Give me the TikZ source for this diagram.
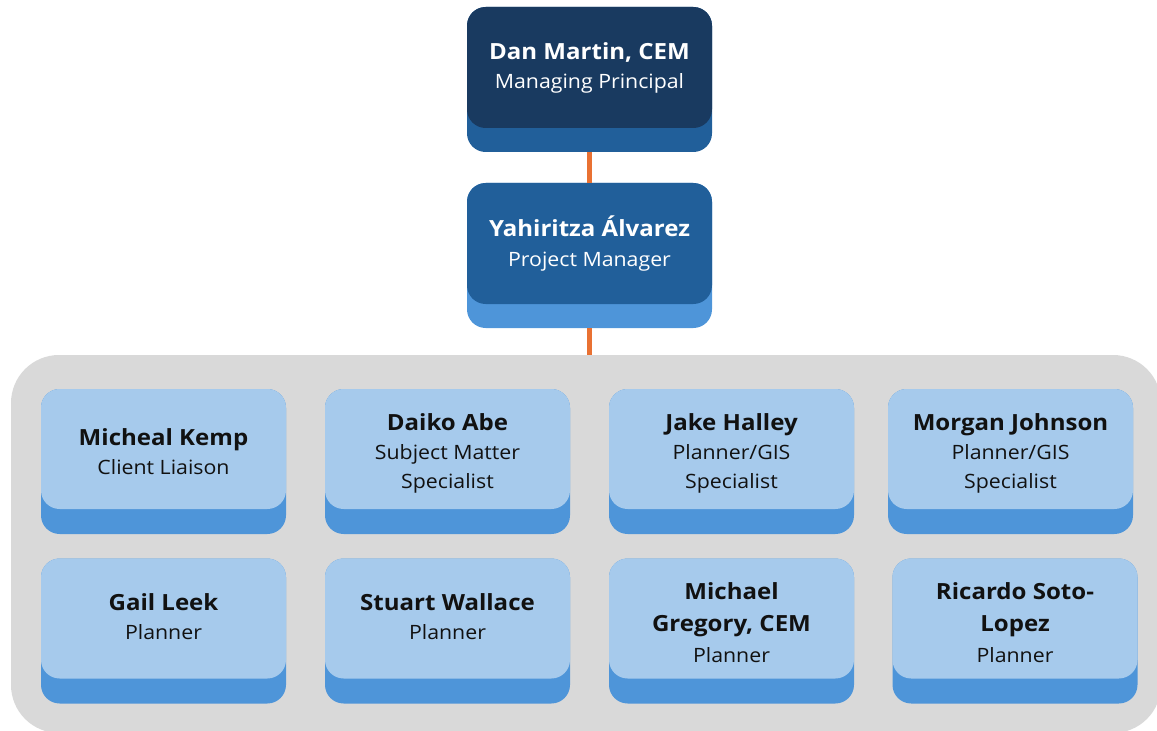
\documentclass[tikz,border=0pt]{standalone}
\usepackage{fontspec}
\setmainfont[FakeStretch=1.08]{Open Sans}
\definecolor{navy}{HTML}{193A60}
\definecolor{midblue}{HTML}{215F9A}
\definecolor{lightblue}{HTML}{4E95D9}
\definecolor{pale}{HTML}{A6CAEC}
\definecolor{panel}{HTML}{D9D9D9}
\definecolor{wire}{HTML}{E97132}
\definecolor{ink}{HTML}{111111}
\newcommand{\nm}[1]{{\fontsize{16.7}{21.8}\selectfont\bfseries #1}}
\begin{document}
\begin{tikzpicture}[x=0.75pt,y=-0.75pt,
  band/.style={rectangle, rounded corners=14pt, inner sep=0pt,
    minimum width=183.75pt, minimum height=108.75pt},
  face/.style={rectangle, rounded corners=14pt, inner sep=0pt, anchor=north,
    minimum width=183.75pt, minimum height=90pt},
  label/.style={inner sep=0pt, align=center, font=\fontsize{14.8}{21.8}\selectfont},
  conn/.style={draw=wire, line width=4.2pt}]
\useasboundingbox (0,0) rectangle (1157,731);
\clip (0,0) rectangle (1157,731);
% panel
\node[rectangle, rounded corners=36pt, fill=panel, inner sep=0pt,
  minimum width=862.5pt, minimum height=283.5pt] (grp) at (586,544) {};
% top boxes
\node[band, fill=midblue] (dm) at (589.5,79.5) {};
\node[face, fill=navy, minimum height=90.75pt] (dmf) at (dm.north) {};
\node[label, text=white] (dmt) at (dmf.center) {\nm{Dan Martin, CEM}\\Managing Principal};
\node[band, fill=lightblue] (ya) at (589.5,255.5) {};
\node[face, fill=midblue, minimum height=90.75pt] (yaf) at (ya.north) {};
\node[label, text=white] (yat) at (yaf.center) {\nm{Yahiritza Álvarez}\\Project Manager};
% connectors
\draw[conn] (dm.south) -- (ya.north);
\draw[conn] (ya.south) -- (ya.south |- grp.north);
% row 1
\node[band, fill=lightblue] (mk) at (163.5,461.5) {};
\node[face, fill=pale] (mkf) at (mk.north) {};
\node[label, text=ink, yshift=-2.25pt] (mkt) at (mkf.center) {\nm{Micheal Kemp}\\Client Liaison};
\node[band, fill=lightblue] (da) at (447.5,461.5) {};
\node[face, fill=pale] (daf) at (da.north) {};
\node[label, text=ink, yshift=-3.2pt] (dat) at (daf.center) {\nm{Daiko Abe}\\Subject Matter\\Specialist};
\node[band, fill=lightblue] (jh) at (731.5,461.5) {};
\node[face, fill=pale] (jhf) at (jh.north) {};
\node[label, text=ink, yshift=-3.2pt] (jht) at (jhf.center) {\nm{Jake Halley}\\Planner/GIS\\Specialist};
\node[band, fill=lightblue] (mj) at (1010.5,461.5) {};
\node[face, fill=pale] (mjf) at (mj.north) {};
\node[label, text=ink, yshift=-3.2pt] (mjt) at (mjf.center) {\nm{Morgan Johnson}\\Planner/GIS\\Specialist};
% row 2
\node[band, fill=lightblue] (gl) at (163.5,631) {};
\node[face, fill=pale] (glf) at (gl.north) {};
\node[label, text=ink, yshift=1.5pt] (glt) at (glf.center) {\nm{Gail Leek}\\Planner};
\node[band, fill=lightblue] (sw) at (447.5,631) {};
\node[face, fill=pale] (swf) at (sw.north) {};
\node[label, text=ink, yshift=1.5pt] (swt) at (swf.center) {\nm{Stuart Wallace}\\Planner};
\node[band, fill=lightblue] (mg) at (731.5,631) {};
\node[face, fill=pale] (mgf) at (mg.north) {};
\node[label, text=ink, yshift=-3pt] (mgt) at (mgf.center) {\nm{Michael}\\[2.5pt]\nm{Gregory, CEM}\\[1pt]Planner};
\node[band, fill=lightblue] (rs) at (1015,631) {};
\node[face, fill=pale] (rsf) at (rs.north) {};
\node[label, text=ink, yshift=-3pt] (rst) at (rsf.center) {\nm{Ricardo Soto-}\\[2.5pt]\nm{Lopez}\\[1pt]Planner};
\end{tikzpicture}
\end{document}
